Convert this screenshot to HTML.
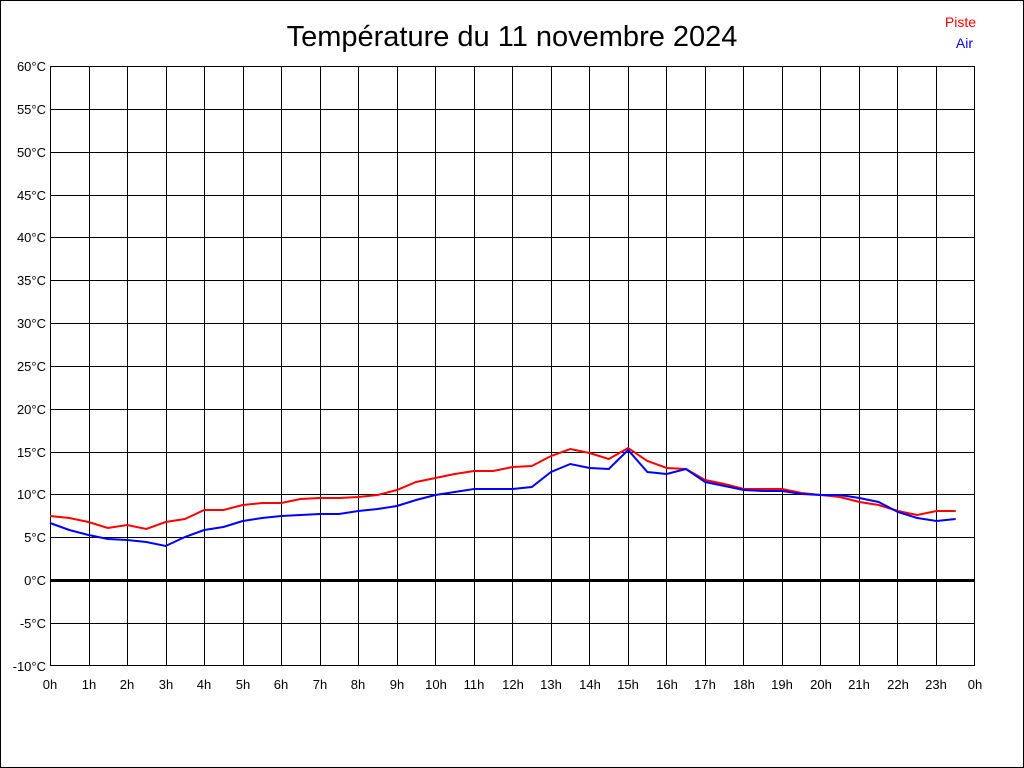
<!DOCTYPE html>
<html><head><meta charset="utf-8"><style>
html,body{margin:0;padding:0;background:#fff}
svg{display:block}
text{font-family:"Liberation Sans",sans-serif}
</style></head><body>
<svg width="1024" height="768" viewBox="0 0 1024 768" xmlns="http://www.w3.org/2000/svg">
<rect x="0.5" y="0.5" width="1023" height="767" fill="#fff" stroke="#000"/>
<text x="512" y="46" font-size="29" text-anchor="middle">Température du 11 novembre 2024</text>
<text x="976" y="27" font-size="14" fill="#f00" text-anchor="end">Piste</text>
<text x="973" y="48" font-size="14" fill="#00f" text-anchor="end">Air</text>
<g stroke="#000" stroke-width="1" shape-rendering="crispEdges">
<path d="M50.5 66V666M89.5 66V666M127.5 66V666M166.5 66V666M204.5 66V666M243.5 66V666M281.5 66V666M320.5 66V666M358.5 66V666M397.5 66V666M435.5 66V666M474.5 66V666M512.5 66V666M551.5 66V666M589.5 66V666M628.5 66V666M666.5 66V666M705.5 66V666M743.5 66V666M782.5 66V666M820.5 66V666M859.5 66V666M897.5 66V666M936.5 66V666M974.5 66V666"/>
<path d="M50 66.5H975M50 109.5H975M50 152.5H975M50 195.5H975M50 237.5H975M50 280.5H975M50 323.5H975M50 366.5H975M50 409.5H975M50 452.5H975M50 494.5H975M50 537.5H975M50 623.5H975M50 665.5H975"/>
</g>
<rect x="50" y="579" width="925" height="3" fill="#000"/>
<g font-size="13" text-anchor="end">
<text x="46" y="71">60°C</text><text x="46" y="114">55°C</text><text x="46" y="157">50°C</text><text x="46" y="200">45°C</text><text x="46" y="242">40°C</text><text x="46" y="285">35°C</text><text x="46" y="328">30°C</text><text x="46" y="371">25°C</text><text x="46" y="414">20°C</text><text x="46" y="457">15°C</text><text x="46" y="499">10°C</text><text x="46" y="542">5°C</text><text x="46" y="585">0°C</text><text x="46" y="628">-5°C</text><text x="46" y="671">-10°C</text>
</g>
<g font-size="13" text-anchor="middle">
<text x="50" y="689">0h</text><text x="89" y="689">1h</text><text x="127" y="689">2h</text><text x="166" y="689">3h</text><text x="204" y="689">4h</text><text x="243" y="689">5h</text><text x="281" y="689">6h</text><text x="320" y="689">7h</text><text x="358" y="689">8h</text><text x="397" y="689">9h</text><text x="436" y="689">10h</text><text x="474" y="689">11h</text><text x="513" y="689">12h</text><text x="551" y="689">13h</text><text x="590" y="689">14h</text><text x="628" y="689">15h</text><text x="667" y="689">16h</text><text x="705" y="689">17h</text><text x="744" y="689">18h</text><text x="782" y="689">19h</text><text x="821" y="689">20h</text><text x="859" y="689">21h</text><text x="898" y="689">22h</text><text x="936" y="689">23h</text><text x="975" y="689">0h</text>
</g>
<polyline fill="none" stroke="#f00" stroke-width="2" points="50,516 69.3,518 88.5,522 107.8,528 127.1,525 146.3,529 165.6,522 184.9,519 204.2,510 223.4,510 242.7,505 262,503 281.3,503 300.5,499 319.8,498 339,498 358.3,497 377.6,495 396.9,490 416.1,482 435.4,478 454.7,474 474,471 493.2,471 512.5,467 531.8,466 551,456 570.3,449 589.6,453 608.8,459 628.1,448 647.4,461 666.7,468 685.9,469 705.2,480 724.5,484 743.8,489 763,489 782.3,489 801.6,493 820.8,495 840.1,497 859.4,502 878.6,505 897.9,511 917.2,515 936.5,511 955.7,511"/>
<polyline fill="none" stroke="#00f" stroke-width="2" points="50,523 69.3,530 88.5,535 107.8,539 127.1,540 146.3,542 165.6,546 184.9,537 204.2,530 223.4,527 242.7,521 262,518 281.3,516 300.5,515 319.8,514 339,514 358.3,511 377.6,509 396.9,506 416.1,500 435.4,495 454.7,492 474,489 493.2,489 512.5,489 531.8,487 551,472 570.3,464 589.6,468 608.8,469 628.1,450 647.4,472 666.7,474 685.9,469 705.2,482 724.5,486 743.8,490 763,491 782.3,491 801.6,494 820.8,495 840.1,495 859.4,498 878.6,502 897.9,512 917.2,518 936.5,521 955.7,519"/>
</svg>
</body></html>
